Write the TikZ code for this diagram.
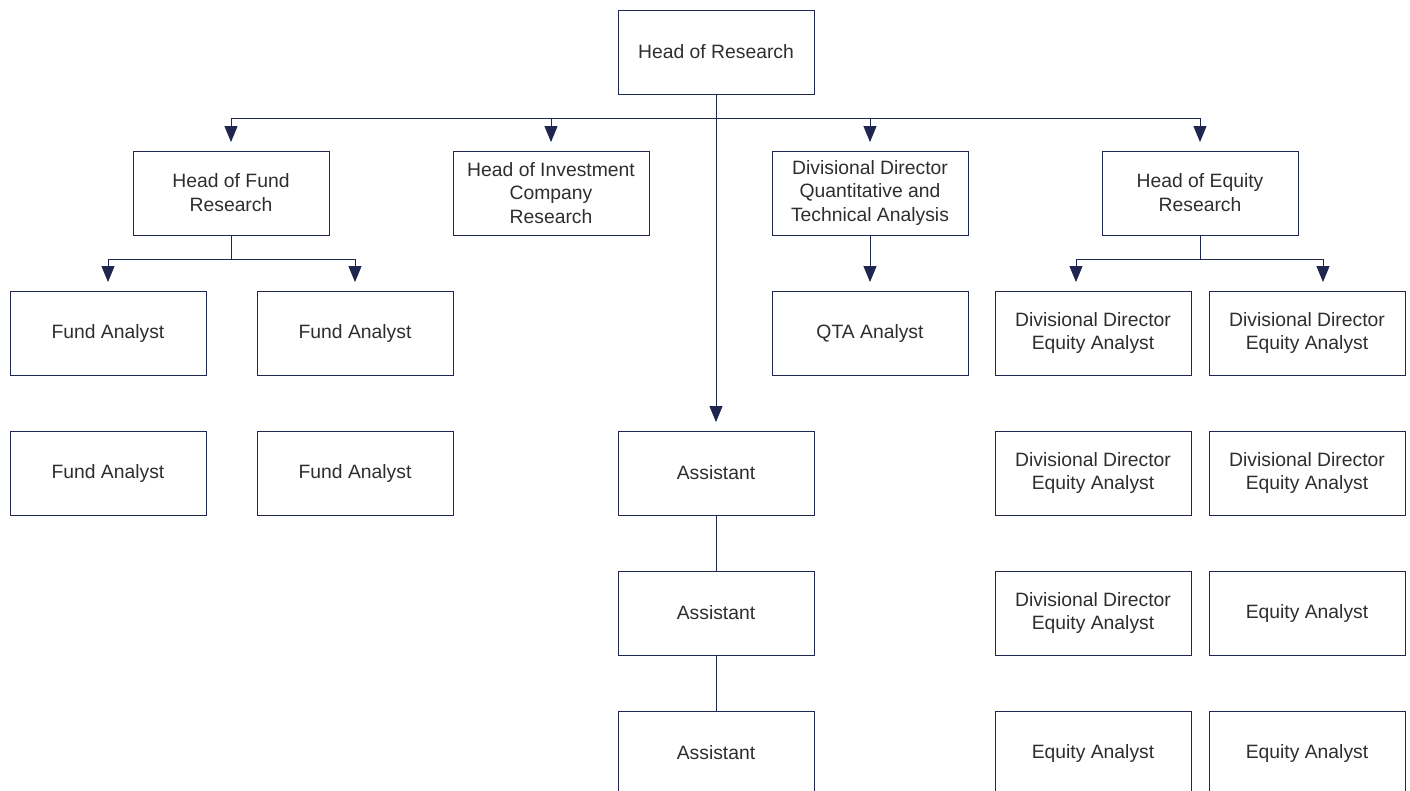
\documentclass[tikz,border=0pt]{standalone}
\usepackage{fontspec}
\setmainfont{Liberation Sans}
\usetikzlibrary{arrows.meta}
\definecolor{navy}{HTML}{1F2750}
\definecolor{txt}{HTML}{2E2E2E}
\begin{document}
\begin{tikzpicture}[x=0.02cm,y=-0.02cm,
    >={Triangle[width=0.26cm,length=0.32cm]},
    post/.style={draw=navy,line width=0.5pt,minimum width=3.92cm,minimum height=1.68cm,
      inner sep=2pt,align=center,text=txt,font=\fontsize{11}{13.6}\selectfont},
    link/.style={navy,line width=0.5pt},
    arr/.style={link,->,shorten >=0.17cm}]
    \useasboundingbox (0,0) rectangle (1410,791);
    \node[post] (HR) at (716,52) {Head of Research};
    \node[post] (FH) at (231,193) {Head of Fund\\Research};
    \node[post] (IC) at (551,193) {Head of Investment\\Company\\Research};
    \node[post] (QD) at (870,193) {Divisional Director\\Quantitative and\\Technical Analysis};
    \node[post] (EH) at (1200,193) {Head of Equity\\Research};
    \node[post] (F1) at (108,333) {Fund Analyst};
    \node[post] (F2) at (355,333) {Fund Analyst};
    \node[post] (F3) at (108,473) {Fund Analyst};
    \node[post] (F4) at (355,473) {Fund Analyst};
    \node[post] (QA) at (870,333) {QTA Analyst};
    \node[post] (A1) at (716,473) {Assistant};
    \node[post] (A2) at (716,613) {Assistant};
    \node[post] (A3) at (716,753) {Assistant};
    \node[post] (E1) at (1093,333) {Divisional Director\\Equity Analyst};
    \node[post] (E2) at (1307,333) {Divisional Director\\Equity Analyst};
    \node[post] (E3) at (1093,473) {Divisional Director\\Equity Analyst};
    \node[post] (E4) at (1307,473) {Divisional Director\\Equity Analyst};
    \node[post] (E5) at (1093,613) {Divisional Director\\Equity Analyst};
    \node[post] (E6) at (1307,613) {Equity Analyst};
    \node[post] (E7) at (1093,753) {Equity Analyst};
    \node[post] (E8) at (1307,753) {Equity Analyst};
    % busses
    \coordinate (b0) at (716,118);
    \coordinate (b1) at (231,259);
    \coordinate (b3) at (1200,259);
    \draw[link] (HR.south) -- (b0);
    \foreach \n in {FH,IC,QD,EH}
      \draw[arr] (b0) -| (\n.north);
    \draw[arr] (HR.south) -- (A1.north);
    \draw[link] (FH.south) -- (b1);
    \draw[arr] (b1) -| (F1.north);
    \draw[arr] (b1) -| (F2.north);
    \draw[arr] (QD) -- (QA);
    \draw[link] (EH.south) -- (b3);
    \draw[arr] (b3) -| ([xshift=-0.34cm]E1.north);
    \draw[arr] (b3) -| ([xshift=0.32cm]E2.north);
    \draw[link] (A1) -- (A2);
    \draw[link] (A2) -- (A3);
\end{tikzpicture}
\end{document}
